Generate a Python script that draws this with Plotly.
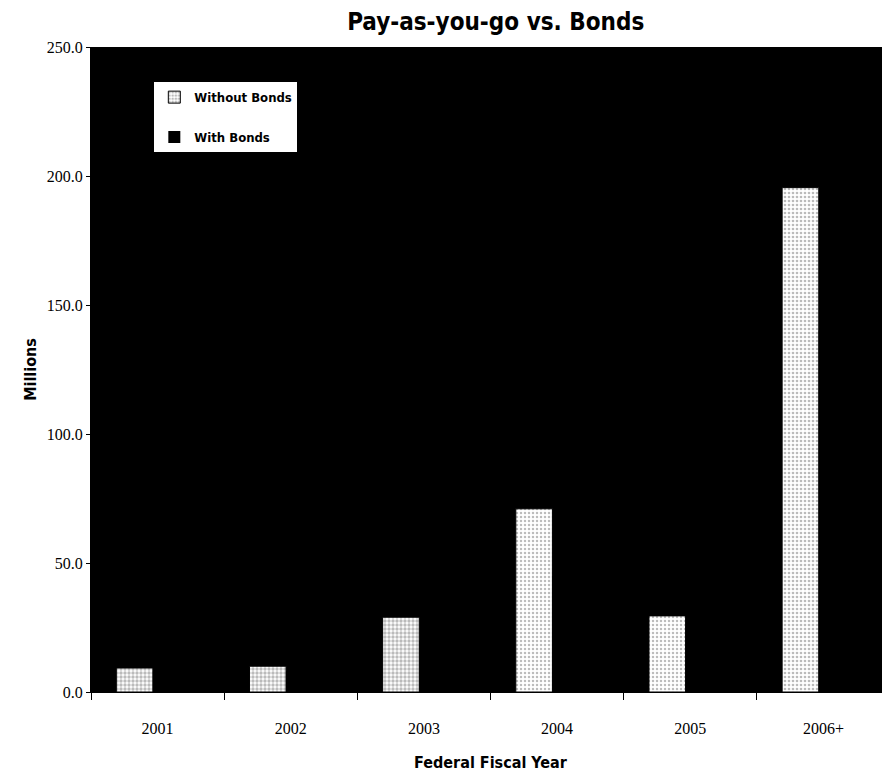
import plotly.graph_objects as go

categories = ["2001", "2002", "2003", "2004", "2005", "2006+"]
without_bonds = [9.3, 10.0, 29.0, 71.0, 29.5, 195.5]
with_bonds = [8.0, 8.0, 20.0, 45.0, 25.0, 140.0]  # black bars, not legible on the black plot area
y_ticks = [0, 50, 100, 150, 200, 250]

heavy = "DejaVu Sans Condensed, DejaVu Sans, sans-serif"
serif = "Liberation Serif, Times New Roman, serif"

fig = go.Figure()
fig.add_trace(go.Bar(
    name="Without Bonds", x=categories, y=without_bonds, legendgroup="a",
    width=0.275, offset=-0.31,
    marker=dict(color="white", line=dict(color="black", width=1),
                pattern=dict(shape=".", fgcolor="#777777", bgcolor="white",
                             size=4, solidity=[0.55, 0.55, 0.55, 0.3, 0.3, 0.35])),
))
fig.add_trace(go.Bar(
    name="With Bonds", x=categories, y=with_bonds, legendgroup="b",
    width=0.275, offset=-0.035,
    marker=dict(color="black", line=dict(color="black", width=0)),
))

fig.update_layout(
    width=890, height=774,
    margin=dict(l=83, r=8, t=39, b=90),
    paper_bgcolor="white", plot_bgcolor="black",
    barmode="overlay",
    title=dict(text="Pay-as-you-go vs. Bonds", x=0.548, xanchor="center",
               y=0.982, yanchor="middle",
               font=dict(family=heavy, size=24, color="black", weight="bold")),
    legend=dict(x=0.078, y=0.947, xanchor="left", yanchor="top",
                bgcolor="white", bordercolor="black", borderwidth=1,
                font=dict(family=heavy, size=13, color="black", weight="bold"),
                traceorder="grouped", tracegroupgap=20),
    showlegend=True,
)
fig.update_xaxes(
    showgrid=False, showline=True, linecolor="black", linewidth=1,
    ticks="outside", ticklen=7, tickcolor="black", tickson="boundaries",
    ticklabelstandoff=22,
    tickfont=dict(family=serif, size=16, color="black"),
    title=dict(text="Federal Fiscal Year", standoff=20,
               font=dict(family=heavy, size=16, color="black", weight="bold")),
)
fig.update_yaxes(
    range=[0, 250], tickvals=y_ticks, tickformat=".1f",
    showgrid=False, zeroline=False, showline=True, linecolor="black", linewidth=1,
    ticks="outside", ticklen=4, tickcolor="black",
    tickfont=dict(family=serif, size=16, color="black"),
    title=dict(text="Millions", standoff=6,
               font=dict(family=heavy, size=16, color="black", weight="bold")),
)

fig.write_html("out.html")
